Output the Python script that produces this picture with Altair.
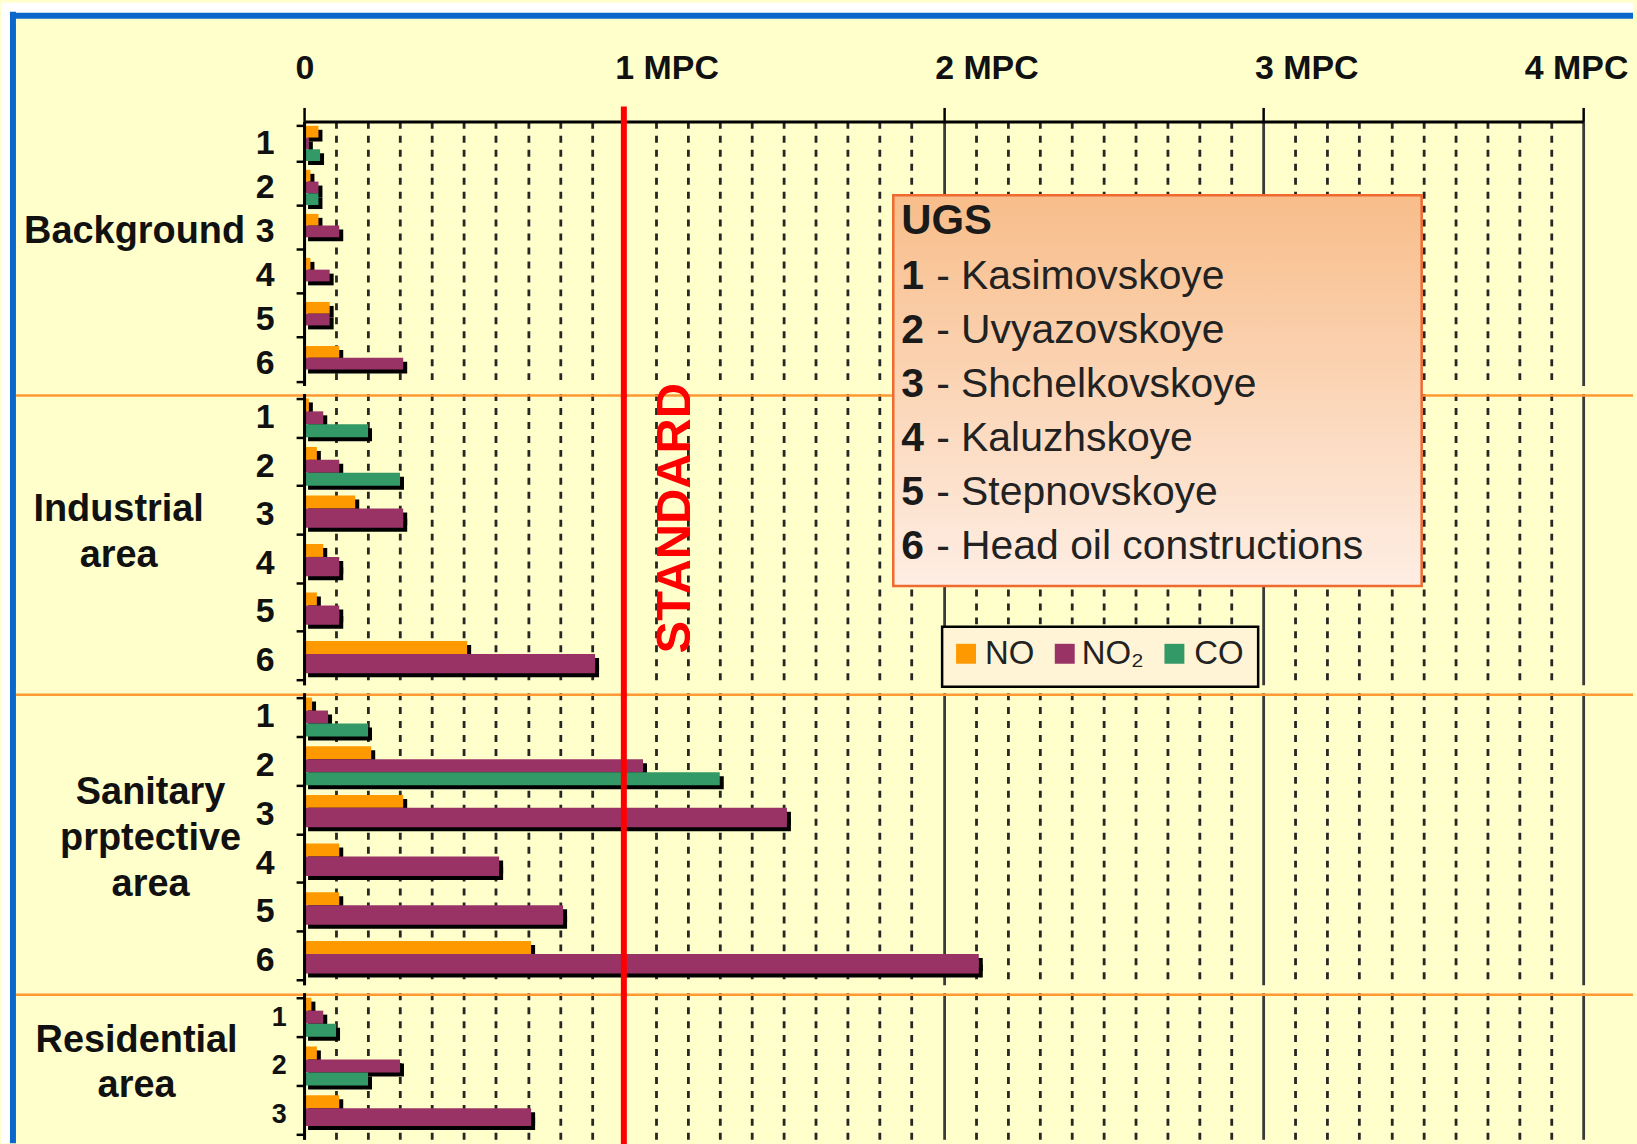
import altair as alt
import pandas as pd

FONT = "Liberation Sans, Arial, sans-serif"

# Pollutants and their bar colours
pollutants = ["NO", "NO₂", "CO"]
colors = ["#FF9900", "#993366", "#339966"]

sites6 = ["1", "2", "3", "4", "5", "6"]
sites3 = ["1", "2", "3"]

# Concentrations in fractions of MPC (CO measured only at the first sites)
bg_no = [0.045, 0.02, 0.045, 0.02, 0.08, 0.11]
bg_no2 = [0.015, 0.045, 0.11, 0.08, 0.08, 0.31]
bg_co = [0.05, 0.045]

ind_no = [0.015, 0.04, 0.16, 0.06, 0.04, 0.51]
ind_no2 = [0.06, 0.11, 0.31, 0.11, 0.11, 0.91]
ind_co = [0.20, 0.30]

san_no = [0.025, 0.21, 0.31, 0.11, 0.11, 0.71]
san_no2 = [0.075, 1.06, 1.51, 0.61, 0.81, 2.11]
san_co = [0.20, 1.30]

res_no = [0.023, 0.04, 0.11]
res_no2 = [0.06, 0.30, 0.71]
res_co = [0.10, 0.20]

# UGS legend
ugs_ids = ["1", "2", "3", "4", "5", "6"]
ugs_names = ["Kasimovskoye", "Uvyazovskoye", "Shchelkovskoye",
             "Kaluzhskoye", "Stepnovskoye", "Head oil constructions"]

# Axis tick values (every 0.1 MPC) and major labels
tick_values = [round(i * 0.1, 1) for i in range(41)]
MAJOR = "abs(datum.value - round(datum.value)) < 0.001"

W = 1283
GAP = 8
H1, H2, H3, H4 = 265, 292, 293, 147
PAD_IN, PAD_OUT = 0.2, 0.1
SHADOW = 4


def long_table(sites, no, no2, co):
    rows = []
    for i, s in enumerate(sites):
        rows.append({"site": s, "pollutant": "NO", "value": no[i]})
        rows.append({"site": s, "pollutant": "NO₂", "value": no2[i]})
        if i < len(co):
            rows.append({"site": s, "pollutant": "CO", "value": co[i]})
    return pd.DataFrame(rows)


one = pd.DataFrame({"k": [0]})
xscale = alt.Scale(domain=[0, 4], nice=False, zero=True)

grid_kw = dict(
    grid=True,
    gridColor={"condition": {"test": MAJOR, "value": "#3a3a3a"}, "value": "#262626"},
    gridDash={"condition": {"test": MAJOR, "value": []}, "value": [7, 7]},
    gridWidth=2.8,
)

top_axis = alt.Axis(
    orient="top", values=tick_values, title=None,
    labelExpr="abs(datum.value - round(datum.value)) < 0.001 ? (datum.value == 0 ? '0' : round(datum.value) + ' MPC') : ''",
    labelFont=FONT, labelFontSize=34, labelFontWeight="bold", labelColor="#111111",
    labelAlign="left",
    labelOffset={"condition": {"test": "datum.value > 3.5", "value": -59}, "value": -9},
    labelPadding=22, labelOverlap=False, labelFlush=False,
    tickSize=14, tickWidth=2.5,
    tickColor={"condition": {"test": MAJOR, "value": "black"}, "value": "transparent"},
    domainColor="black", domainWidth=3, **grid_kw,
)
plain_axis = alt.Axis(orient="top", values=tick_values, title=None, labels=False,
                      ticks=False, domain=False, **grid_kw)


def offset_enc(lo, hi):
    return alt.YOffset("pollutant:N", sort=pollutants,
                       scale=alt.Scale(domain=pollutants, range=[lo, hi]))


def panel(df, sites, height, xaxis, label_size=34, label_pad=22, extra=(),
          separator=True, widen=0.0):
    yaxis = alt.Axis(orient="left", title=None, grid=False, domainColor="black",
                     domainWidth=3, tickBand="extent", tickSize=8, tickWidth=2.5,
                     tickColor="black", labelFont=FONT, labelFontSize=label_size,
                     labelFontWeight="bold", labelColor="#111111",
                     labelPadding=label_pad, labelAngle=0, zindex=1)
    x = alt.X("value:Q", scale=xscale, axis=xaxis, title=None)
    y = alt.Y("site:N", sort=sites,
              scale=alt.Scale(domain=sites, paddingInner=PAD_IN, paddingOuter=PAD_OUT),
              axis=yaxis, title=None)
    band = height / len(sites) * (1 - PAD_IN)
    shift = band / 3 * widen
    base = alt.Chart(df)
    # NO2 bars of sites without CO reach down into the empty CO slot
    wide = base.transform_joinaggregate(n="count()", groupby=["site"]).transform_filter(
        "datum.n < 3 && datum.pollutant == 'NO₂'")
    # drop shadow: same bars moved right and down
    shadow = base.mark_bar(color="black", xOffset=SHADOW).encode(
        x=x, y=y, yOffset=offset_enc(SHADOW, band + SHADOW))
    bars = base.mark_bar().encode(
        x=x, y=y, yOffset=offset_enc(0, band),
        color=alt.Color("pollutant:N", scale=alt.Scale(domain=pollutants, range=colors), legend=None),
    )
    layers = []
    if separator:
        layers.append(alt.Chart(one).mark_rule(color="#FF9933", strokeWidth=2.5).encode(
            x=alt.value(-289), x2=alt.value(1333), y=alt.value(2)))
    layers.append(shadow)
    if widen > 0:
        layers.append(wide.mark_bar(color="black", xOffset=SHADOW).encode(
            x=x, y=y, yOffset=offset_enc(SHADOW + shift, band + SHADOW + shift)))
    layers.append(bars)
    if widen > 0:
        layers.append(wide.mark_bar(color=colors[1]).encode(
            x=x, y=y, yOffset=offset_enc(shift, band + shift)))
    red_top = -15 if not separator else 0
    layers.append(alt.Chart(one).mark_rule(color="#FF0000", strokeWidth=6).encode(
        x=alt.XDatum(1, type="quantitative", scale=xscale, axis=xaxis),
        y=alt.value(red_top), y2=alt.value(height + GAP + 4)))
    layers += list(extra)
    return alt.layer(*layers).resolve_scale(yOffset="independent").properties(
        width=W, height=height)


def label(lines, x, y, **kw):
    return alt.Chart(one).mark_text(
        font=FONT, fontSize=38, fontWeight="bold", color="#111111",
        align="center", baseline="middle", lineHeight=46, **kw
    ).encode(x=alt.value(x), y=alt.value(y), text=alt.value(lines))


# Page frame: white margin and blue border
frame = [
    alt.Chart(one).mark_rect(color="white").encode(
        x=alt.value(-304), x2=alt.value(-295), y=alt.value(-119), y2=alt.value(1025)),
    alt.Chart(one).mark_rect(color="white").encode(
        x=alt.value(-304), x2=alt.value(1333), y=alt.value(-119), y2=alt.value(-109)),
    alt.Chart(one).mark_rule(color="#0A68CC", strokeWidth=6).encode(
        x=alt.value(-292), y=alt.value(-110), y2=alt.value(1025)),
    alt.Chart(one).mark_rule(color="#0A68CC", strokeWidth=6).encode(
        x=alt.value(-295), x2=alt.value(1333), y=alt.value(-106)),
]

# UGS list box and pollutant key
ugs_box = alt.Chart(one).mark_rect(
    fill={"gradient": "linear", "x1": 0, "y1": 0, "x2": 0, "y2": 1,
          "stops": [{"offset": 0, "color": "#F8BD8A"}, {"offset": 1, "color": "#FEEEE4"}]},
    stroke="#F06A30", strokeWidth=2.5,
).encode(x=alt.value(591), x2=alt.value(1121), y=alt.value(-199), y2=alt.value(193))
ugs_title = alt.Chart(one).mark_text(
    font=FONT, fontSize=42, fontWeight="bold", color="#1a1a1a", align="left", baseline="middle"
).encode(x=alt.value(599), y=alt.value(-173), text=alt.value("UGS"))
ugs_num = alt.Chart(one).mark_text(
    font=FONT, fontSize=41, fontWeight="bold", color="#1a1a1a", align="left",
    baseline="middle", lineHeight=54.2
).encode(x=alt.value(599), y=alt.value(-117), text=alt.value(ugs_ids))
ugs_txt = alt.Chart(one).mark_text(
    font=FONT, fontSize=41, color="#222222", align="left", baseline="middle", lineHeight=54.2
).encode(x=alt.value(634), y=alt.value(-117), text=alt.value(["- " + n for n in ugs_names]))

key_box = alt.Chart(one).mark_rect(fill="#FFF4D6", stroke="black", strokeWidth=2.5).encode(
    x=alt.value(640), x2=alt.value(957), y=alt.value(234), y2=alt.value(294))
key_marks = []
for px, tx, c, t in [(664, 683, colors[0], "NO"), (763, 780, colors[1], "NO₂"), (873, 893, colors[2], "CO")]:
    key_marks.append(alt.Chart(one).mark_square(size=400, color=c, opacity=1).encode(
        x=alt.value(px), y=alt.value(261)))
    key_marks.append(alt.Chart(one).mark_text(
        font=FONT, fontSize=33, color="#222222", align="left", baseline="middle").encode(
        x=alt.value(tx), y=alt.value(261), text=alt.value(t)))

standard = alt.Chart(one).mark_text(
    font=FONT, fontSize=49, fontWeight="bold", color="#FF0000", angle=270,
    align="center", baseline="middle",
).encode(x=alt.value(372), y=alt.value(125), text=alt.value("STANDARD"))

p1 = panel(long_table(sites6, bg_no, bg_no2, bg_co), sites6, H1, top_axis,
           extra=[label("Background", -170, 111)] + frame, separator=False)
p2 = panel(long_table(sites6, ind_no, ind_no2, ind_co), sites6, H2, plain_axis,
           extra=[label(["Industrial", "area"], -186, 117), ugs_box, ugs_title, ugs_num,
                  ugs_txt, key_box] + key_marks + [standard], widen=0.5)
p3 = panel(long_table(sites6, san_no, san_no2, san_co), sites6, H3, plain_axis,
           extra=[label(["Sanitary", "prptective", "area"], -154, 101)], widen=0.5)
p4 = panel(long_table(sites3, res_no, res_no2, res_co), sites3, H4, plain_axis,
           label_size=27, label_pad=10, widen=0.35,
           extra=[label(["Residential", "area"], -168, 48)])

chart = alt.vconcat(p1, p2, p3, p4, spacing=GAP, bounds="flush").properties(
    padding=0, background="#FFFFCC"
).configure_view(stroke="transparent")

chart.save("out.html", embed_options={"renderer": "svg", "actions": False})
